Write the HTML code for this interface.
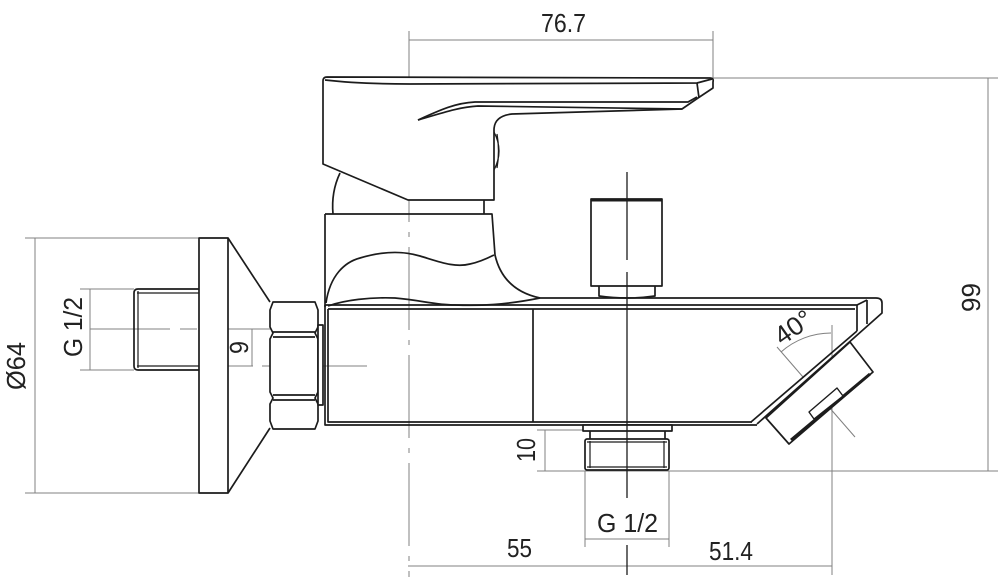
<!DOCTYPE html>
<html><head><meta charset="utf-8"><style>
html,body{margin:0;padding:0;background:#fff;}
svg{display:block;}
text{font-family:"Liberation Sans",sans-serif;fill:#222;}
</style></head><body>
<svg width="1000" height="588" viewBox="0 0 1000 588" xmlns="http://www.w3.org/2000/svg">
<rect width="1000" height="588" fill="#fff"/>
<!-- dimension lines -->
<g stroke="#808080" stroke-width="1" fill="none">
<path d="M409,40 H713 M713,31 V78 M713,78 H998 M988,78 V471 M537,471 H998"/>
<path d="M545,430 V471 M537,430 H583"/>
<path d="M585,471 V547 M669,471 V547 M585,539 H669"/>
<path d="M408,566 H832 M832,325 V575"/>
<path d="M35,238 V493 M25,238 H199 M25,493 H199"/>
<path d="M90,289 V370 M80,289 H134 M80,370 H134"/>
<path d="M252,329 V366"/>
<path d="M90,329 H170 M180,329 H197 M210,329 H290"/>
<path d="M220,366 H253 M262,366 H270 M280,366 H367"/>
<path d="M409,31 V577" stroke-dasharray="83,10,5,10"/>
<path d="M777,347 L803,377 M808,383 L855,437"/>
<path d="M781,352 A76,76 0 0 1 831,333"/>
</g>
<!-- main outlines -->
<g stroke="#1c1c1c" stroke-width="1.7" fill="none" stroke-linejoin="round">
<!-- handle -->
<path d="M327,77 L710,78 Q714,78 713,82 L713,88 L698,98 L682,109 L512,114 Q494,116 494,130 L494,200 L408,200 L323,164 L323,81 Q323,77 327,77 Z" fill="#fff"/>
<path d="M325,80 Q360,84 410,84 L697,83 L712,79"/>
<path d="M697,83 L699,98"/>
<path d="M418,120 C440,110 455,103 475,102 L688,102 L697,97"/>
<path d="M418,120 C445,112 460,107 478,106 L682,109"/>
<path d="M494,132 Q504,151 494,170 M497,134 Q500,151 497,168" stroke-width="1.3"/>
<!-- under handle -->
<path d="M340,173 Q331,192 333,214"/>
<path d="M484,200 V214"/>
<path d="M325,214 H492 L495,255 Q503,290 540,298"/>
<path d="M325,214 V307"/>
<path d="M326,303 C330,275 345,262 360,258 C380,252 400,250 420,256 C440,262 455,268 470,264 C480,262 488,258 494,255"/>
<path d="M328,306 C345,300 370,297 395,298 C420,300 435,305 455,305 C480,306 505,305 540,298"/>
<!-- body -->
<path d="M540,298 H876 Q882,298 882,303 L882,313 L757,424"/>
<path d="M325,305 H857 L867,300"/>
<path d="M857,305 V331 M867,300 V324"/>
<path d="M857,331 L751,422"/>
<path d="M328,309 H855"/>
<path d="M325,305 V425 H757"/>
<path d="M328,309 V422 H752"/>
<path d="M533,309 V422"/>
<!-- aerator -->
<polygon points="766,418 789,444 873,372 850,342" fill="#fff"/>
<path d="M791,440 L870,374" stroke-width="3"/>
<polygon points="809,412 814,419 843,396 837,388" fill="#fff" stroke-width="1.4"/>
<!-- diverter -->
<rect x="591" y="199" width="71" height="87" fill="#fff"/>
<path d="M591,200 H662" stroke-width="3"/>
<path d="M599,286 V296 Q627,300 655,296 V286"/>
<!-- bottom fitting -->
<rect x="583" y="425" width="89" height="6" fill="#fff"/>
<path d="M590,431 V439 M665,431 V439"/>
<rect x="585" y="439" width="84" height="31" rx="2" fill="#fff"/>
<path d="M590,441 V468 M664,441 V468 M587,442 H667 M587,467 H667" stroke-width="1.2"/>
<!-- left: flange, cone, pipe, nut -->
<rect x="199" y="238" width="29" height="255" fill="#fff"/>
<path d="M228,238 L270,302 M228,493 L270,428"/>
<path d="M199,289 H138 Q134,289 134,293 V366 Q134,370 138,370 H199"/>
<path d="M137,293 H199 M137,366 H199 M138,291 V368" stroke-width="1.2"/>
<path d="M273,302 H315 L318,310 V327 L315,333 L318,339 V392 L315,398 L318,404 V421 L315,429 H273 L270,421 V404 L273,398 L270,392 V339 L273,333 L270,327 V310 Z" fill="#fff"/>
<path d="M273,332 H315 M273,337 H315 M273,395 H315 M273,400 H315"/>
<rect x="318" y="325" width="5" height="80" fill="#fff"/>
</g>
<!-- center axis -->
<g stroke="#1c1c1c" stroke-width="1.3" fill="none">
<path d="M627,172 V260 M627,272 V498 M627,545 V575"/>
</g>
<!-- labels -->
<g font-size="26">
<text x="541" y="32" textLength="45" lengthAdjust="spacingAndGlyphs">76.7</text>
<text x="507" y="557" textLength="25" lengthAdjust="spacingAndGlyphs">55</text>
<text x="709" y="560" textLength="44" lengthAdjust="spacingAndGlyphs">51.4</text>
<text x="597" y="532" textLength="61" lengthAdjust="spacingAndGlyphs">G 1/2</text>
<text transform="translate(25,390) rotate(-90)" textLength="48" lengthAdjust="spacingAndGlyphs">Ø64</text>
<text transform="translate(82,357) rotate(-90)" textLength="60" lengthAdjust="spacingAndGlyphs">G 1/2</text>
<text transform="translate(248,354) rotate(-90)" textLength="13" lengthAdjust="spacingAndGlyphs">9</text>
<text transform="translate(535,462) rotate(-90)" textLength="24" lengthAdjust="spacingAndGlyphs">10</text>
<text transform="translate(980,312) rotate(-90)" textLength="29" lengthAdjust="spacingAndGlyphs">99</text>
<text transform="translate(782,346) rotate(-35)" textLength="40" lengthAdjust="spacingAndGlyphs">40°</text>
</g>
</svg>
</body></html>
